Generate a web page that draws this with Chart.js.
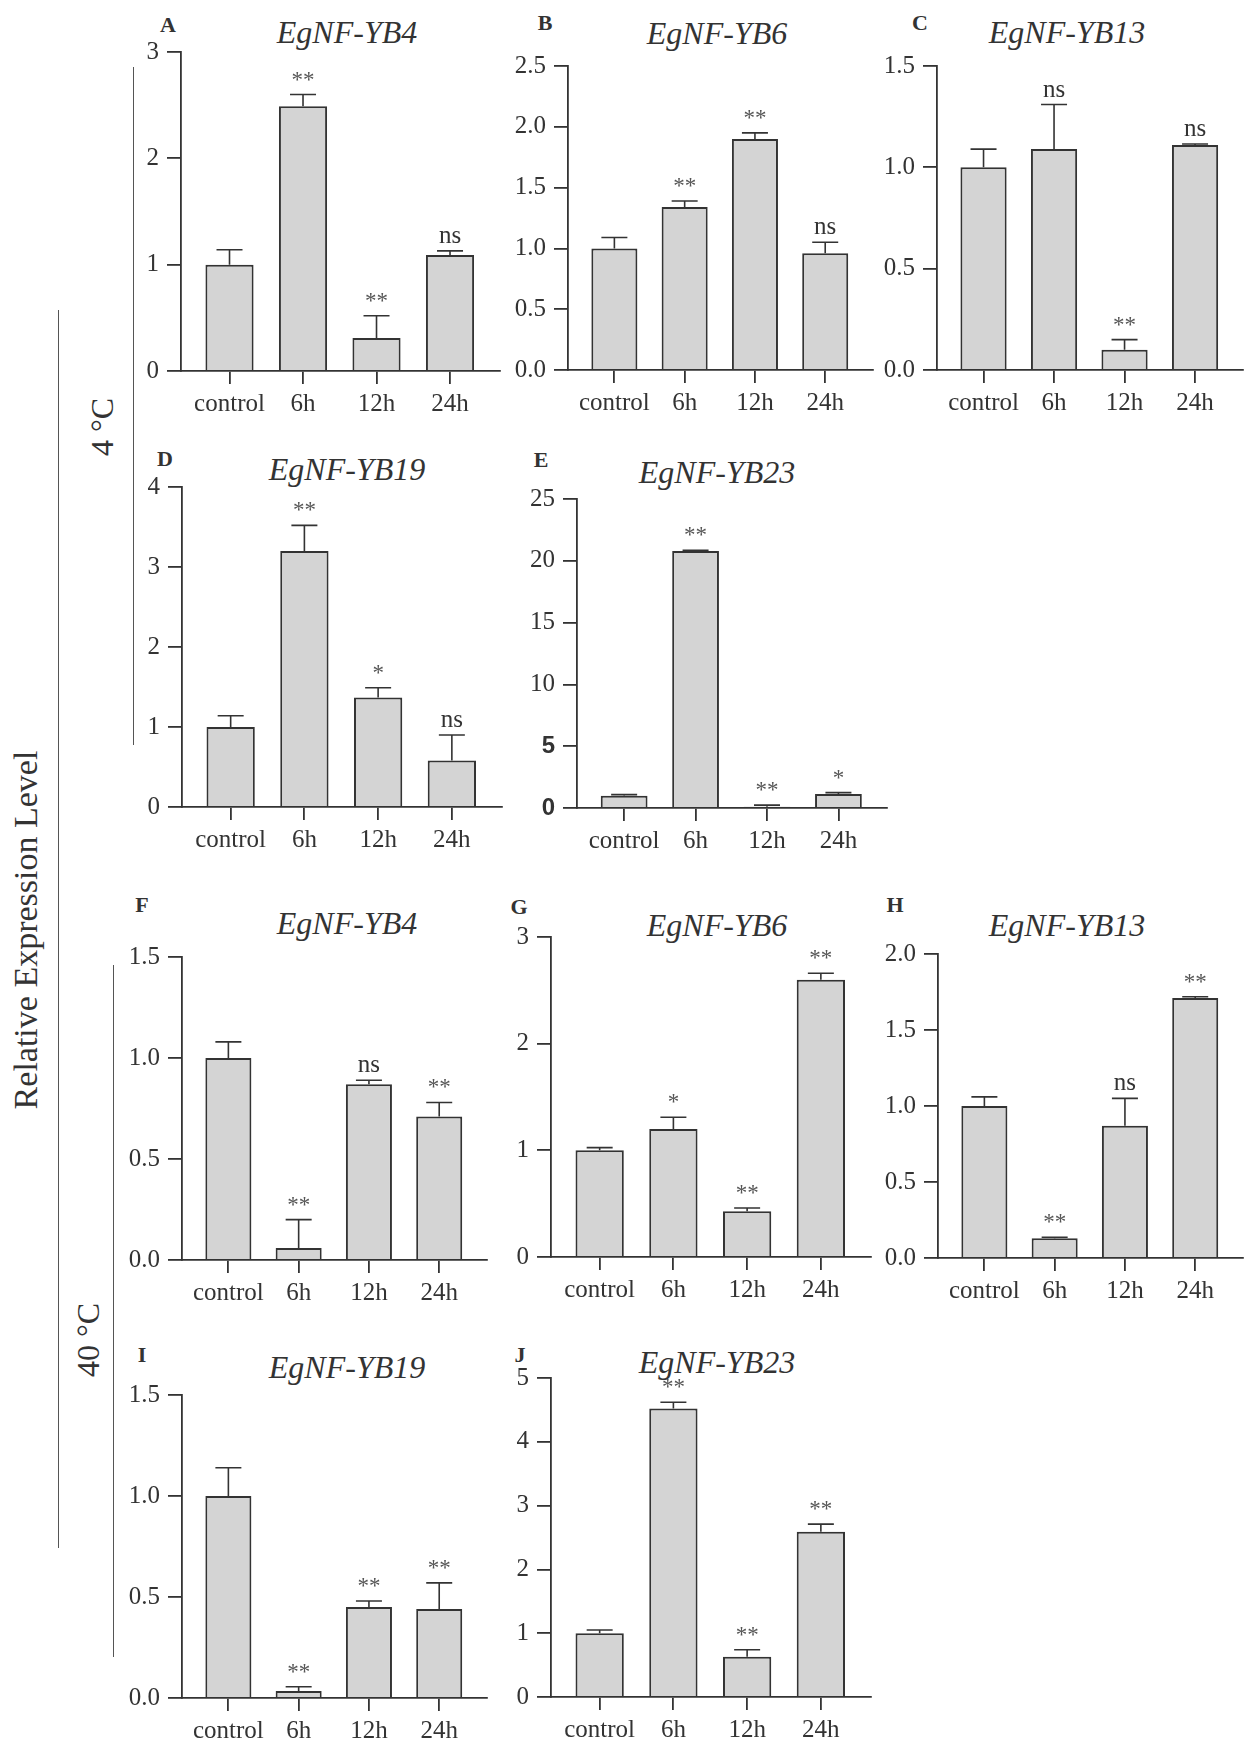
<!DOCTYPE html>
<html lang="en">
<head>
<meta charset="UTF-8">
<title>EgNF-YB expression at 4 °C and 40 °C</title>
<script src="https://cdn.jsdelivr.net/npm/chart.js"></script>
<style>
  body { margin: 0; background: #fff; }
  #fig { position: relative; width: 1258px; height: 1757px; font-family: "Liberation Serif", "Times New Roman", serif; color: #333; overflow: hidden; }
  .panel { position: absolute; }
  .letter { position: absolute; font-weight: bold; font-size: 22px; line-height: 1; transform: translate(-50%, -50%); }
  .gene { position: absolute; font-style: italic; font-size: 32px; line-height: 1; white-space: nowrap; transform: translate(-50%, -50%); }
  .side { position: absolute; line-height: 1; white-space: nowrap; transform: translate(-50%, -50%) rotate(-90deg); }
  .bracket { position: absolute; width: 0; border-left: 1.5px solid #555; }
</style>
</head>
<body>
<div id="fig">
  <div class="bracket" style="left:58px; top:310px; height:1238px;"></div>
  <div class="bracket" style="left:133px; top:67px; height:678px;"></div>
  <div class="bracket" style="left:113px; top:965px; height:692px;"></div>
  <div class="side" style="left:26px; top:930px; font-size:34px;">Relative Expression Level</div>
  <div class="side" style="left:102px; top:427px; font-size:32px;">4 °C</div>
  <div class="side" style="left:88px; top:1340px; font-size:32px;">40 °C</div>
</div>

<script>
// ---- data ----
const timePoints = ['control', '6h', '12h', '24h'];
const genes = ['EgNF-YB4', 'EgNF-YB6', 'EgNF-YB13', 'EgNF-YB19', 'EgNF-YB23'];

// 4 °C
const yb4Cold = [1.00, 2.49, 0.31, 1.09];
const yb4ColdSem = [0.14, 0.11, 0.21, 0.04];
const yb4ColdSig = ['', '**', '**', 'ns'];
const yb6Cold = [1.00, 1.34, 1.90, 0.96];
const yb6ColdSem = [0.09, 0.05, 0.05, 0.09];
const yb6ColdSig = ['', '**', '**', 'ns'];
const yb13Cold = [1.00, 1.09, 0.10, 1.11];
const yb13ColdSem = [0.09, 0.22, 0.05, 0.005];
const yb13ColdSig = ['', 'ns', '**', 'ns'];
const yb19Cold = [1.00, 3.20, 1.37, 0.58];
const yb19ColdSem = [0.14, 0.32, 0.12, 0.32];
const yb19ColdSig = ['', '**', '*', 'ns'];
const yb23Cold = [1.00, 20.8, 0.10, 1.13];
const yb23ColdSem = [0.08, 0.05, 0.13, 0.11];
const yb23ColdSig = ['', '**', '**', '*'];

// 40 °C
const yb4Heat = [1.00, 0.06, 0.87, 0.71];
const yb4HeatSem = [0.08, 0.14, 0.02, 0.07];
const yb4HeatSig = ['', '**', 'ns', '**'];
const yb6Heat = [1.00, 1.20, 0.43, 2.60];
const yb6HeatSem = [0.025, 0.11, 0.03, 0.06];
const yb6HeatSig = ['', '*', '**', '**'];
const yb13Heat = [1.00, 0.13, 0.87, 1.71];
const yb13HeatSem = [0.06, 0.007, 0.18, 0.009];
const yb13HeatSig = ['', '**', 'ns', '**'];
const yb19Heat = [1.00, 0.035, 0.45, 0.44];
const yb19HeatSem = [0.14, 0.021, 0.03, 0.13];
const yb19HeatSig = ['', '**', '**', '**'];
const yb23Heat = [1.00, 4.52, 0.63, 2.59];
const yb23HeatSem = [0.05, 0.10, 0.11, 0.12];
const yb23HeatSig = ['', '**', '**', '**'];

// y axis ranges
const coldMax = [3, 2.5, 1.5, 4, 25];
const coldStep = [1, 0.5, 0.5, 1, 5];
const heatMax = [1.5, 3, 2, 1.5, 5];
const heatStep = [0.5, 1, 0.5, 0.5, 1];

const panels = [
  { gene: genes[0], mean: yb4Cold, sem: yb4ColdSem, sig: yb4ColdSig, max: coldMax[0], step: coldStep[0] },
  { gene: genes[1], mean: yb6Cold, sem: yb6ColdSem, sig: yb6ColdSig, max: coldMax[1], step: coldStep[1] },
  { gene: genes[2], mean: yb13Cold, sem: yb13ColdSem, sig: yb13ColdSig, max: coldMax[2], step: coldStep[2] },
  { gene: genes[3], mean: yb19Cold, sem: yb19ColdSem, sig: yb19ColdSig, max: coldMax[3], step: coldStep[3] },
  { gene: genes[4], mean: yb23Cold, sem: yb23ColdSem, sig: yb23ColdSig, max: coldMax[4], step: coldStep[4] },
  { gene: genes[0], mean: yb4Heat, sem: yb4HeatSem, sig: yb4HeatSig, max: heatMax[0], step: heatStep[0] },
  { gene: genes[1], mean: yb6Heat, sem: yb6HeatSem, sig: yb6HeatSig, max: heatMax[1], step: heatStep[1] },
  { gene: genes[2], mean: yb13Heat, sem: yb13HeatSem, sig: yb13HeatSig, max: heatMax[2], step: heatStep[2] },
  { gene: genes[3], mean: yb19Heat, sem: yb19HeatSem, sig: yb19HeatSig, max: heatMax[3], step: heatStep[3] },
  { gene: genes[4], mean: yb23Heat, sem: yb23HeatSem, sig: yb23HeatSig, max: heatMax[4], step: heatStep[4] }
];

// ---- layout (pixels in the page) ----
const frames = [
  { letter: 'A', axisX: 181, xEnd: 500, yTop: 52, yBot: 371, lx: 168, ly: 25, tx: 347, ty: 32 },
  { letter: 'B', axisX: 568, xEnd: 873, yTop: 66, yBot: 370, lx: 545, ly: 23, tx: 717, ty: 33 },
  { letter: 'C', axisX: 937, xEnd: 1243, yTop: 66, yBot: 370, lx: 920, ly: 23, tx: 1067, ty: 32 },
  { letter: 'D', axisX: 182, xEnd: 502, yTop: 487, yBot: 807, lx: 165, ly: 459, tx: 347, ty: 469 },
  { letter: 'E', axisX: 577, xEnd: 887, yTop: 499, yBot: 808, lx: 541, ly: 460, tx: 717, ty: 472, boldTicks: true },
  { letter: 'F', axisX: 182, xEnd: 487, yTop: 957, yBot: 1260, lx: 142, ly: 905, tx: 347, ty: 923 },
  { letter: 'G', axisX: 551, xEnd: 871, yTop: 937, yBot: 1257, lx: 519, ly: 907, tx: 717, ty: 925 },
  { letter: 'H', axisX: 938, xEnd: 1243, yTop: 954, yBot: 1258, lx: 895, ly: 905, tx: 1067, ty: 925 },
  { letter: 'I', axisX: 182, xEnd: 487, yTop: 1395, yBot: 1698, lx: 142, ly: 1355, tx: 347, ty: 1367 },
  { letter: 'J', axisX: 551, xEnd: 871, yTop: 1378, yBot: 1697, lx: 520, ly: 1355, tx: 717, ty: 1362 }
];

const SERIF = '"Liberation Serif", "Times New Roman", serif';
const INK = '#333';
const YW = 70, XH = 52, PT = 24, PR = 4;

function errorBars(p) {
  return {
    id: 'errorBars',
    afterDatasetsDraw(chart) {
      const ctx = chart.ctx;
      const y = chart.scales.y;
      const meta = chart.getDatasetMeta(0);
      ctx.save();
      meta.data.forEach((bar, i) => {
        const base = y.getPixelForValue(p.mean[i]);
        const top = y.getPixelForValue(p.mean[i] + p.sem[i]);
        ctx.strokeStyle = INK;
        ctx.lineWidth = 1.6;
        ctx.beginPath();
        ctx.moveTo(bar.x, base);
        ctx.lineTo(bar.x, top);
        ctx.moveTo(bar.x - 13, top);
        ctx.lineTo(bar.x + 13, top);
        ctx.stroke();
        const s = p.sig[i];
        if (s) {
          ctx.fillStyle = s === 'ns' ? INK : '#555';
          ctx.font = (s === 'ns' ? 25 : 23) + 'px ' + SERIF;
          ctx.textAlign = 'center';
          ctx.textBaseline = 'alphabetic';
          ctx.fillText(s, bar.x, top - 8);
        }
      });
      ctx.restore();
    }
  };
}

const fig = document.getElementById('fig');

frames.forEach((f, i) => {
  const p = panels[i];

  const letter = document.createElement('div');
  letter.className = 'letter';
  letter.style.left = f.lx + 'px';
  letter.style.top = f.ly + 'px';
  letter.textContent = f.letter;
  fig.appendChild(letter);

  const title = document.createElement('div');
  title.className = 'gene';
  title.style.left = f.tx + 'px';
  title.style.top = f.ty + 'px';
  title.textContent = p.gene;
  fig.appendChild(title);

  const wrap = document.createElement('div');
  wrap.className = 'panel';
  wrap.style.left = (f.axisX - YW) + 'px';
  wrap.style.top = (f.yTop - PT) + 'px';
  wrap.style.width = (f.xEnd - f.axisX + YW + PR) + 'px';
  wrap.style.height = (f.yBot - f.yTop + PT + XH) + 'px';
  const canvas = document.createElement('canvas');
  wrap.appendChild(canvas);
  fig.appendChild(wrap);

  const decimals = p.step < 1 ? 1 : 0;

  new Chart(canvas, {
    type: 'bar',
    data: {
      datasets: [{
        data: p.mean.map((v, k) => ({ x: k + 1, y: v })),
        backgroundColor: '#d4d4d4',
        borderColor: INK,
        borderWidth: 2,
        barPercentage: 0.655,
        categoryPercentage: 1
      }]
    },
    options: {
      responsive: true,
      maintainAspectRatio: false,
      animation: false,
      layout: { padding: { top: PT, left: 0, right: PR, bottom: 0 } },
      plugins: { legend: { display: false }, tooltip: { enabled: false }, title: { display: false } },
      scales: {
        x: {
          type: 'linear',
          offset: false,
          min: 0.34,
          max: 4.68,
          afterBuildTicks: (s) => { s.ticks = timePoints.map((t, k) => ({ value: k + 1 })); },
          afterFit: (s) => { s.height = XH; s.paddingLeft = 0; s.paddingRight = 0; },
          grid: { offset: false, drawOnChartArea: false, drawTicks: true, tickLength: 13, color: INK, lineWidth: 1.8 },
          border: { display: true, color: INK, width: 1.8 },
          ticks: {
            autoSkip: false,
            maxRotation: 0,
            minRotation: 0,
            padding: 5,
            color: INK,
            font: { family: SERIF, size: 25 },
            callback: (v) => timePoints[Math.round(v) - 1]
          }
        },
        y: {
          min: 0,
          max: p.max,
          afterFit: (s) => { s.width = YW; s.paddingTop = 0; s.paddingBottom = 0; },
          grid: { drawOnChartArea: false, drawTicks: true, tickLength: 14, color: INK, lineWidth: 1.8 },
          border: { display: true, color: INK, width: 1.8 },
          ticks: {
            stepSize: p.step,
            padding: 8,
            color: INK,
            font: (c) => (f.boldTicks && c.tick && c.tick.value <= 5)
              ? { family: '"Liberation Sans", Arial, sans-serif', weight: 'bold', size: 24 }
              : { family: SERIF, size: 25 },
            callback: (v) => Number(v).toFixed(decimals)
          }
        }
      }
    },
    plugins: [errorBars(p)]
  });
});
</script>
</body>
</html>
